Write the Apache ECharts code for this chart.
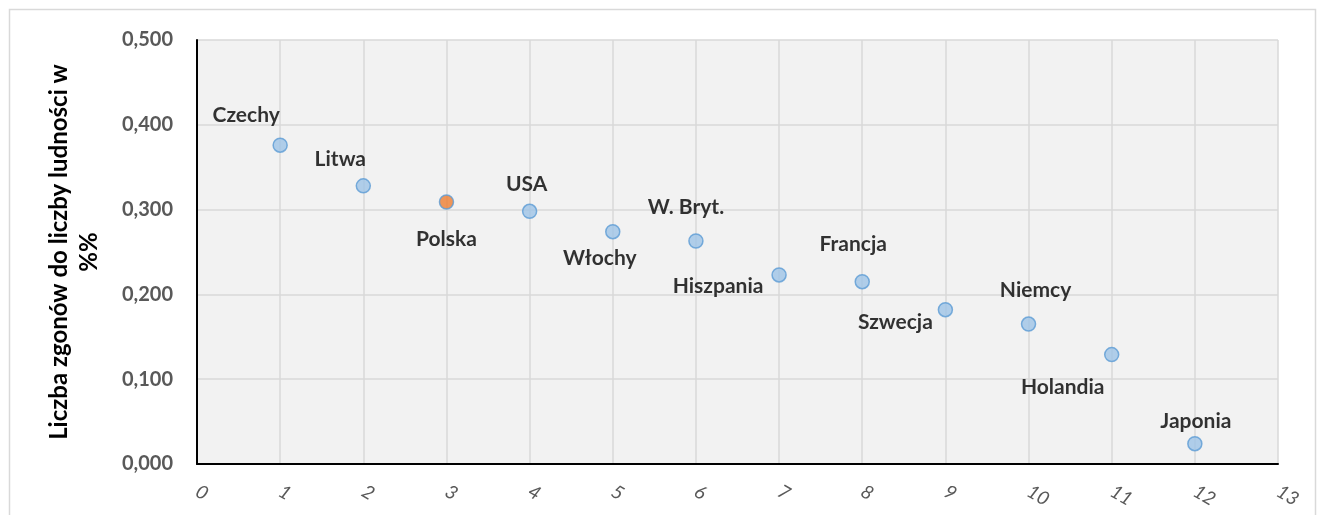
<!DOCTYPE html>
<html><head><meta charset="utf-8">
<script src="https://cdn.jsdelivr.net/npm/echarts@6/dist/echarts.min.js"></script>
<style>html,body{margin:0;padding:0;background:#fff}#c{width:1317px;height:515px}</style>
</head><body><div id="c"></div>
<script>
const countries = ['Czechy','Litwa','Polska','USA','Włochy','W. Bryt.','Hiszpania','Francja','Szwecja','Niemcy','Holandia','Japonia'];
const positions = [1,2,3,4,5,6,7,8,9,10,11,12];
const deathShare = [0.376,0.328,0.309,0.298,0.274,0.263,0.223,0.215,0.182,0.165,0.129,0.024];
const highlighted = 'Polska';
const labelOffsets = [[-34,-30],[-23,-27],[0,37],[-3,-27],[-13,27],[-10,-34],[-61,11],[-9,-37],[-50,13],[7,-34],[-49,33],[1,-22]];
const yAxisTitle = 'Liczba zgonów do liczby ludności w\n%%';

const font = 'Lato, "Open Sans", sans-serif';
const chart = echarts.init(document.getElementById('c'), null, {renderer:'canvas'});
const data = countries.map((n,i)=>({
  name:n, value:[positions[i], deathShare[i]],
  itemStyle:{color: n===highlighted ? '#ed7d31' : '#9dc3e6', borderColor:'#5b9bd5', borderWidth:1.5},
  label:{offset: labelOffsets[i]}
}));
chart.setOption({
  animation:false,
  graphic:[{type:'rect', shape:{x:9.5,y:9.5,width:1306,height:540}, style:{fill:'none', stroke:'#d9d9d9', lineWidth:1.5}, z:-10}],
  grid:{left:197, right:39, top:40, bottom:51, show:true, backgroundColor:'#f2f2f2', borderWidth:0},
  xAxis:{type:'value', min:0, max:13, interval:1,
    axisLine:{show:true, onZero:false, lineStyle:{color:'#000', width:2}},
    axisTick:{show:false},
    splitLine:{show:true, lineStyle:{color:'#d9d9d9', width:1.5}},
    axisLabel:{rotate:-30, color:'#595959', fontSize:19, fontFamily:font, fontStyle:'italic', margin:26}
  },
  yAxis:{type:'value', min:0, max:0.5, interval:0.1,
    axisLine:{show:true, onZero:false, lineStyle:{color:'#000', width:2}},
    axisTick:{show:false},
    splitLine:{show:true, lineStyle:{color:'#d9d9d9', width:1.5}},
    axisLabel:{color:'#595959', fontSize:20, fontWeight:'bold', fontFamily:font, margin:24,
      formatter:v=>v.toFixed(3).replace('.',',')},
    name:yAxisTitle, nameLocation:'middle', nameRotate:90, nameGap:93,
    nameTextStyle:{color:'#000', fontSize:24, fontWeight:'bold', fontFamily:font, lineHeight:30, align:'center'}
  },
  series:[{type:'scatter', symbol:'circle', symbolSize:14, data:data,
    label:{show:true, position:'inside', formatter:'{b}', color:'#000', fontSize:21, fontWeight:'bold', fontFamily:font}
  }]
});
</script></body></html>
